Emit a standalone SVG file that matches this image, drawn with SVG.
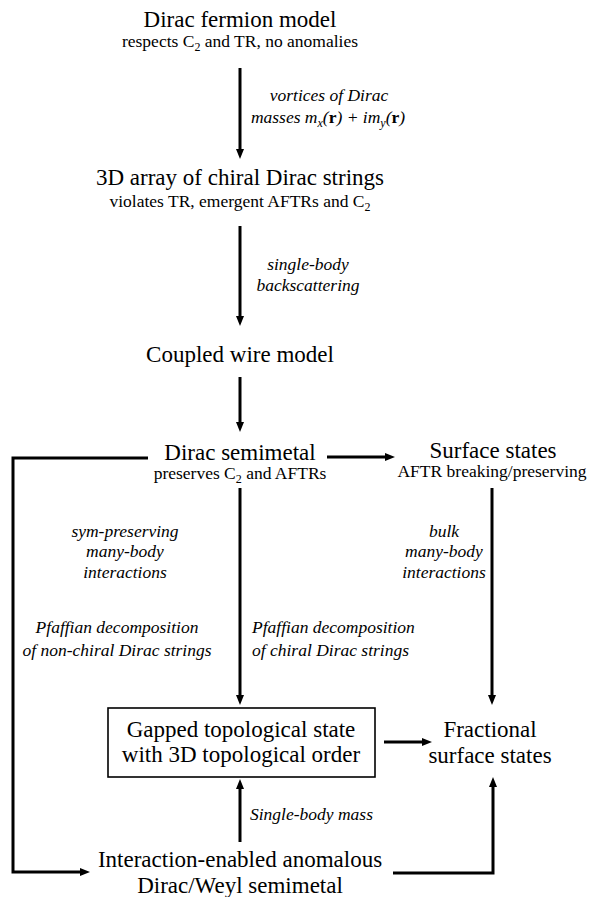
<svg xmlns="http://www.w3.org/2000/svg" width="598" height="897" viewBox="0 0 598 897">
<style>
text{font-family:"Liberation Serif","Times New Roman",serif;fill:#000}
.t{font-size:23px}
.s{font-size:17.5px}
.i{font-size:17.5px;font-style:italic}
.c{text-anchor:middle}
.ln{stroke:#000;stroke-width:3;fill:none}
.box{stroke:#000;stroke-width:1.6;fill:#fff}
</style>
<defs>
<marker id="ah" markerUnits="userSpaceOnUse" markerWidth="11" markerHeight="9" refX="4" refY="4" orient="auto">
<path d="M0,0 L10,4 L0,8 z" fill="#000"/>
</marker>
</defs>
<rect width="598" height="897" fill="#fff"/>
<g id="connectors">
<line class="ln" x1="240" y1="68" x2="240" y2="153" marker-end="url(#ah)"/>
<line class="ln" x1="240" y1="226" x2="240" y2="320" marker-end="url(#ah)"/>
<line class="ln" x1="240" y1="377" x2="240" y2="426" marker-end="url(#ah)"/>
<line class="ln" x1="327" y1="457" x2="389" y2="457" marker-end="url(#ah)"/>
<line class="ln" x1="240" y1="488" x2="240" y2="699" marker-end="url(#ah)"/>
<line class="ln" x1="492" y1="488" x2="492" y2="699" marker-end="url(#ah)"/>
<line class="ln" x1="384" y1="742" x2="426" y2="742" marker-end="url(#ah)"/>
<line class="ln" x1="240" y1="842" x2="240" y2="785" marker-end="url(#ah)"/>
<polyline class="ln" points="148,458 13,458 13,872 84,872" marker-end="url(#ah)"/>
<polyline class="ln" points="393,873 493,873 493,783" marker-end="url(#ah)"/>
<g id="edge-labels">
<text class="i c" x="329" y="101">vortices of Dirac</text>
<text class="i c" x="328" y="123">masses m<tspan font-size="12" dy="4">x</tspan><tspan dy="-4">(</tspan><tspan font-weight="bold" font-style="normal">r</tspan>) + im<tspan font-size="12" dy="4">y</tspan><tspan dy="-4">(</tspan><tspan font-weight="bold" font-style="normal">r</tspan>)</text>
<text class="i c" x="308" y="270">single-body</text>
<text class="i c" x="308" y="291">backscattering</text>
<text class="i c" x="125" y="537">sym-preserving</text>
<text class="i c" x="125" y="557">many-body</text>
<text class="i c" x="125" y="578">interactions</text>
<text class="i c" x="444" y="537">bulk</text>
<text class="i c" x="444" y="557">many-body</text>
<text class="i c" x="444" y="578">interactions</text>
<text class="i c" x="117" y="633">Pfaffian decomposition</text>
<text class="i c" x="117" y="656">of non-chiral Dirac strings</text>
<text class="i" x="252" y="633">Pfaffian decomposition</text>
<text class="i" x="252" y="656">of chiral Dirac strings</text>
<text class="i" x="250" y="820">Single-body mass</text>
</g>
</g>
<g id="dirac-fermion-model">
<text class="t c" x="240" y="27">Dirac fermion model</text>
<text class="s c" x="240" y="47">respects C<tspan font-size="12" dy="4">2</tspan><tspan dy="-4"> and TR, no anomalies</tspan></text>
</g>
<g id="chiral-dirac-strings">
<text class="t c" x="240" y="185">3D array of chiral Dirac strings</text>
<text class="s c" x="240" y="207">violates TR, emergent AFTRs and C<tspan font-size="12" dy="4">2</tspan></text>
</g>
<g id="coupled-wire-model">
<text class="t c" x="240" y="362">Coupled wire model</text>
</g>
<g id="dirac-semimetal">
<text class="t c" x="240" y="460">Dirac semimetal</text>
<text class="s c" x="240" y="479">preserves C<tspan font-size="12" dy="4">2</tspan><tspan dy="-4"> and AFTRs</tspan></text>
</g>
<g id="surface-states">
<text class="t c" x="493" y="458">Surface states</text>
<text class="s c" x="492" y="477">AFTR breaking/preserving</text>
</g>
<g id="gapped-topological-state">
<rect class="box" x="108" y="708" width="267" height="69"/>
<text class="t c" x="241" y="737">Gapped topological state</text>
<text class="t c" x="241" y="762">with 3D topological order</text>
</g>
<g id="fractional-surface-states">
<text class="t c" x="490" y="737">Fractional</text>
<text class="t c" x="490" y="763">surface states</text>
</g>
<g id="anomalous-semimetal">
<text class="t c" x="240" y="867">Interaction-enabled anomalous</text>
<text class="t c" x="240" y="893">Dirac/Weyl semimetal</text>
</g>
</svg>
